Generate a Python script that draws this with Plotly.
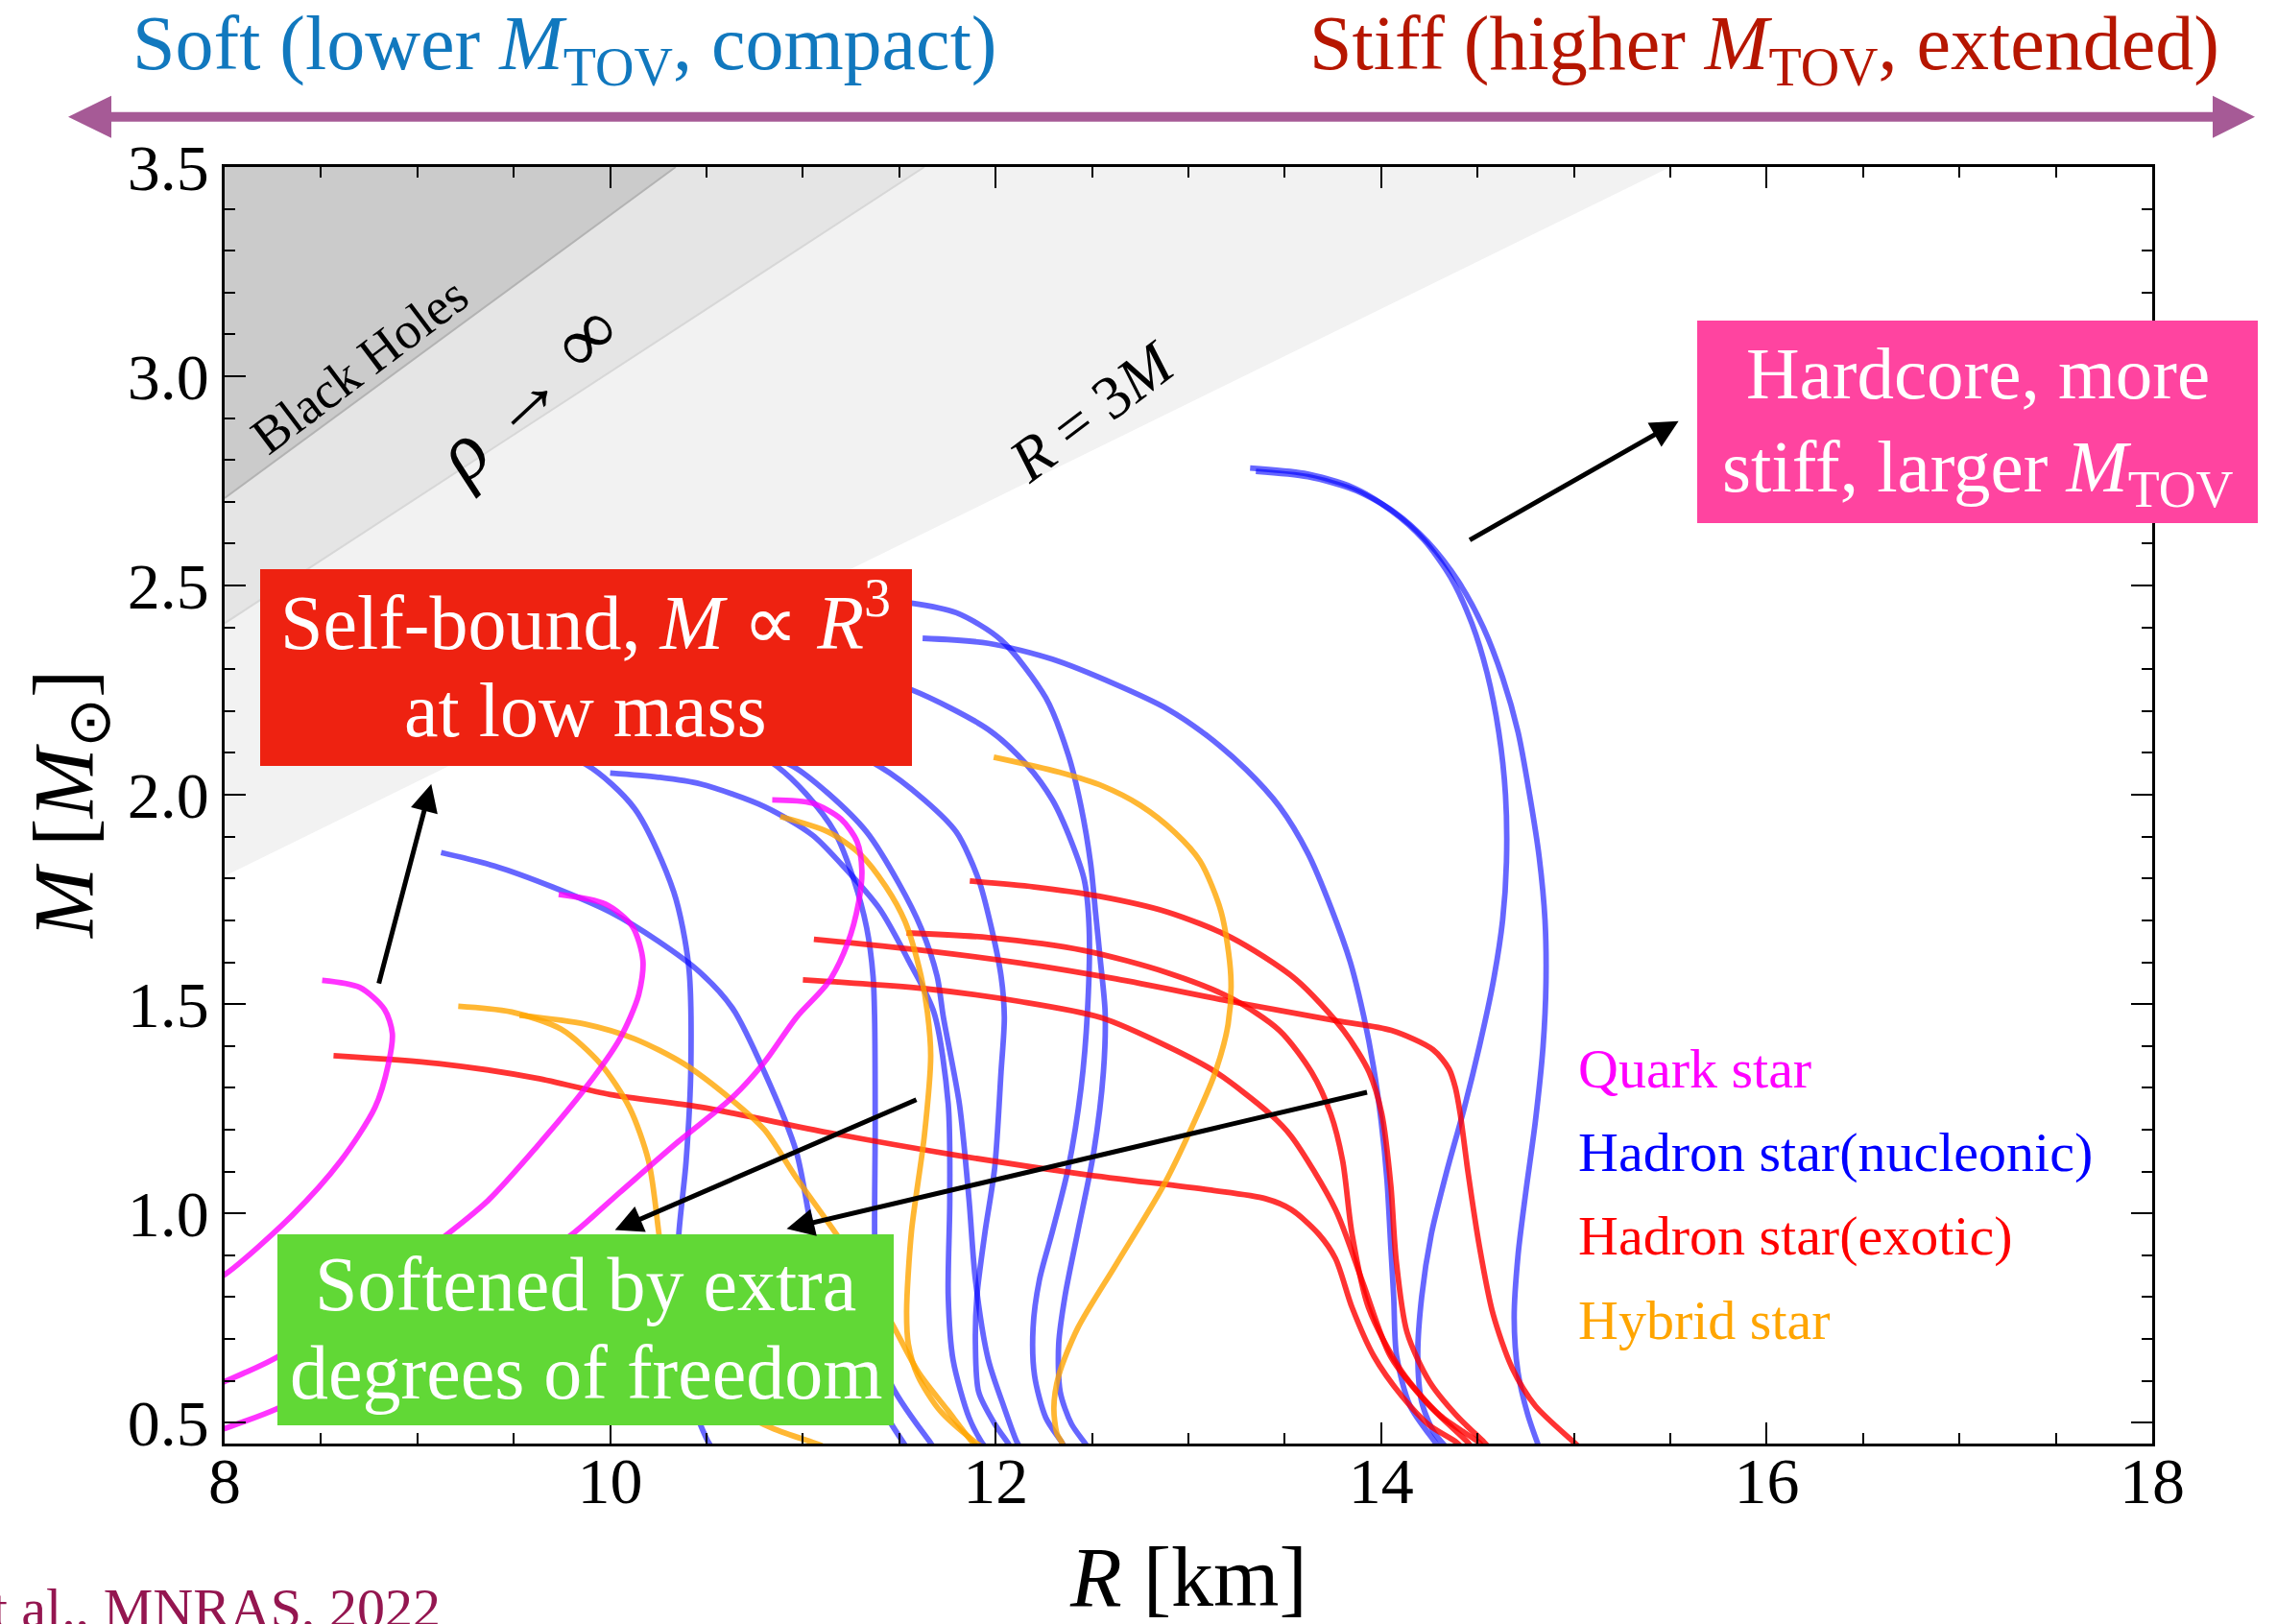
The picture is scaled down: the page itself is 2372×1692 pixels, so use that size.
import plotly.graph_objects as go

# ---------------- data (R in km, M in solar masses) ----------------
quark_R = [
    [8.506, 8.70, 8.83, 8.87, 8.85, 8.78, 8.60, 8.35, 8.005, 7.9],
    [9.733, 9.975, 10.115, 10.17, 10.148, 10.05, 9.873, 9.619, 9.365, 9.136, 8.7, 8.27, 8.0, 7.9],
    [10.841, 11.049, 11.198, 11.281, 11.306, 11.289, 11.231, 11.132, 10.966, 10.80, 10.634, 10.35,
     10.05, 9.797, 9.3, 8.8, 8.27, 8.0, 7.9],
]
quark_M = [
    [1.557, 1.54, 1.487, 1.43, 1.358, 1.253, 1.124, 0.995, 0.855, 0.83],
    [1.762, 1.739, 1.686, 1.604, 1.522, 1.417, 1.30, 1.159, 1.03, 0.943, 0.79, 0.656, 0.598, 0.578],
    [1.988, 1.98, 1.942, 1.888, 1.819, 1.743, 1.644, 1.552, 1.468, 1.361, 1.277, 1.17,
     1.05, 0.948, 0.79, 0.66, 0.533, 0.486, 0.47],
]

nucleonic_R = [
    [13.32, 13.6, 13.85, 14.05, 14.22, 14.36, 14.47, 14.55, 14.61, 14.645, 14.65, 14.63, 14.58,
     14.51, 14.43, 14.34, 14.26, 14.21, 14.19, 14.21, 14.27, 14.34],
    [13.35, 13.62, 13.87, 14.07, 14.24, 14.40, 14.53, 14.63, 14.71, 14.77, 14.82, 14.85, 14.855,
     14.84, 14.80, 14.75, 14.71, 14.69, 14.71, 14.76, 14.82],
    [11.621, 11.962, 12.294, 12.626, 12.891, 13.10, 13.30, 13.472, 13.62, 13.74, 13.84, 13.91,
     13.96, 14.0, 14.03, 14.05, 14.065, 14.08, 14.15, 14.28, 14.30],
    [11.25, 11.563, 11.796, 12.028, 12.26, 12.377, 12.443, 12.493, 12.518, 12.543, 12.568, 12.559,
     12.509, 12.426, 12.36, 12.327, 12.335, 12.393, 12.46, 12.48],
    [11.2, 11.563, 11.962, 12.161, 12.294, 12.393, 12.46, 12.485, 12.476, 12.443, 12.377, 12.294,
     12.227, 12.194, 12.202, 12.26, 12.343, 12.36],
    [10.0, 10.25, 10.468, 10.80, 11.049, 11.198, 11.397, 11.547, 11.68, 11.754, 11.762, 11.754,
     11.779, 11.862, 11.928, 11.95],
    [9.5, 9.873, 10.127, 10.33, 10.407, 10.419, 10.394, 10.356, 10.35, 10.38, 10.44, 10.51, 10.53],
    [9.123, 9.4, 9.7, 10.0, 10.25, 10.468, 10.635, 10.80, 10.966, 11.049, 11.15, 11.3, 11.52, 11.54],
    [10.5, 10.866, 11.015, 11.165, 11.264, 11.331, 11.364, 11.372, 11.375, 11.372, 11.38, 11.45,
     11.66, 11.68],
    [10.6, 10.949, 11.132, 11.331, 11.497, 11.613, 11.696, 11.729, 11.812, 11.862, 11.895, 11.962,
     12.045, 12.111, 12.13],
    [11.0, 11.397, 11.63, 11.796, 11.912, 11.978, 12.028, 12.045, 12.028, 11.995, 11.945, 11.903,
     11.895, 11.912, 11.995, 12.061, 12.08],
]
nucleonic_M = [
    [2.781, 2.768, 2.735, 2.68, 2.61, 2.52, 2.41, 2.29, 2.15, 2.0, 1.84, 1.7, 1.55,
     1.40, 1.25, 1.10, 0.95, 0.80, 0.66, 0.55, 0.48, 0.44],
    [2.773, 2.76, 2.727, 2.675, 2.605, 2.51, 2.40, 2.28, 2.15, 2.0, 1.85, 1.7, 1.55,
     1.40, 1.22, 1.05, 0.90, 0.75, 0.62, 0.52, 0.44],
    [2.374, 2.362, 2.324, 2.263, 2.205, 2.14, 2.06, 1.972, 1.86, 1.73, 1.60, 1.47,
     1.35, 1.22, 1.08, 0.92, 0.80, 0.66, 0.54, 0.453, 0.44],
    [2.47, 2.458, 2.435, 2.37, 2.232, 2.095, 1.972, 1.835, 1.72, 1.605, 1.48, 1.338,
     1.147, 0.956, 0.803, 0.688, 0.573, 0.497, 0.453, 0.44],
    [2.30, 2.251, 2.156, 2.072, 1.988, 1.888, 1.796, 1.682, 1.48, 1.30, 1.109, 0.956,
     0.841, 0.726, 0.612, 0.512, 0.453, 0.44],
    [2.052, 2.042, 2.026, 1.972, 1.904, 1.835, 1.728, 1.605, 1.48, 1.261, 1.032, 0.803,
     0.65, 0.512, 0.453, 0.44],
    [2.13, 2.073, 1.967, 1.768, 1.593, 1.358, 1.124, 0.948, 0.80, 0.65, 0.53, 0.453, 0.44],
    [1.862, 1.83, 1.78, 1.72, 1.65, 1.575, 1.49, 1.338, 1.147, 0.956, 0.80, 0.62, 0.453, 0.44],
    [2.17, 2.068, 2.003, 1.911, 1.797, 1.682, 1.567, 1.468, 1.2, 0.956, 0.8, 0.6, 0.453, 0.44],
    [2.13, 2.068, 2.003, 1.911, 1.789, 1.682, 1.567, 1.468, 1.261, 1.032, 0.841, 0.65,
     0.535, 0.453, 0.44],
    [2.15, 2.068, 1.988, 1.911, 1.797, 1.682, 1.567, 1.468, 1.338, 1.109, 0.956, 0.803,
     0.688, 0.573, 0.497, 0.453, 0.44],
]

exotic_R = [
    [8.565, 9.11, 9.619, 10.0, 10.468, 11.132, 11.796, 12.46, 13.106, 13.40, 13.534, 13.677,
     13.763, 13.849, 13.963, 14.106, 14.249, 14.391, 14.42],
    [11.866, 12.2, 12.534, 12.891, 13.223, 13.555, 13.804, 13.937, 14.003, 14.05, 14.077, 14.134,
     14.249, 14.391, 14.534, 14.56],
    [11.538, 11.962, 12.46, 12.891, 13.223, 13.472, 13.638, 13.738, 13.80, 13.849, 13.934, 14.106,
     14.306, 14.506, 14.53],
    [11.057, 11.63, 12.128, 12.626, 13.223, 13.771, 14.053, 14.269, 14.352, 14.385, 14.41, 14.45,
     14.51, 14.58, 14.68, 14.80, 15.0, 15.03],
    [11.0, 11.63, 12.128, 12.543, 12.891, 13.14, 13.422, 13.534, 13.763, 13.906, 14.049, 14.249,
     14.449, 14.47],
]
exotic_M = [
    [1.377, 1.358, 1.323, 1.284, 1.254, 1.193, 1.139, 1.093, 1.056, 1.035, 1.009, 0.95,
     0.892, 0.775, 0.658, 0.564, 0.494, 0.453, 0.44],
    [1.794, 1.78, 1.758, 1.72, 1.659, 1.56, 1.437, 1.338, 1.238, 1.067, 0.892, 0.716,
     0.599, 0.517, 0.453, 0.44],
    [1.67, 1.659, 1.628, 1.575, 1.514, 1.437, 1.338, 1.238, 1.126, 0.95, 0.775, 0.623,
     0.517, 0.453, 0.44],
    [1.655, 1.628, 1.598, 1.56, 1.506, 1.46, 1.437, 1.391, 1.345, 1.30, 1.238, 1.10,
     0.92, 0.76, 0.63, 0.54, 0.453, 0.44],
    [1.558, 1.537, 1.506, 1.468, 1.399, 1.338, 1.238, 1.184, 1.009, 0.833, 0.658, 0.541,
     0.453, 0.44],
]

hybrid_R = [
    [9.212, 9.49, 9.746, 9.949, 10.10, 10.20, 10.254, 10.30, 10.45, 10.70, 10.85, 11.05, 11.1],
    [9.53, 9.873, 10.127, 10.38, 10.634, 10.80, 10.966, 11.165, 11.35, 11.47, 11.6, 11.75, 11.88, 11.9],
    [10.883, 11.132, 11.298, 11.43, 11.53, 11.613, 11.646, 11.663, 11.63, 11.563, 11.538, 11.547,
     11.596, 11.712, 11.895, 11.92],
    [11.99, 12.33, 12.56, 12.75, 12.93, 13.06, 13.17, 13.22, 13.206, 13.14, 13.057, 12.875, 12.626,
     12.426, 12.327, 12.302, 12.318, 12.343, 12.35],
]
hybrid_M = [
    [1.495, 1.481, 1.44, 1.358, 1.253, 1.124, 0.948, 0.78, 0.62, 0.52, 0.485, 0.453, 0.445],
    [1.473, 1.452, 1.417, 1.358, 1.27, 1.20, 1.085, 0.956, 0.83, 0.73, 0.62, 0.53, 0.453, 0.445],
    [1.948, 1.911, 1.858, 1.781, 1.697, 1.567, 1.48, 1.376, 1.185, 0.956, 0.765, 0.688,
     0.612, 0.528, 0.453, 0.445],
    [2.09, 2.054, 2.02, 1.975, 1.91, 1.842, 1.72, 1.567, 1.452, 1.338, 1.246, 1.07, 0.879,
     0.726, 0.612, 0.535, 0.474, 0.453, 0.445],
]

# forbidden-region boundaries (end points)
bh_R, bh_M = [8.0, 10.34], [2.709, 3.5]
rho_R, rho_M = [8.0, 11.63], [2.41, 3.5]
r3m_R, r3m_M = [8.0, 15.5], [1.806, 3.5]

legend_labels = ["Quark star", "Hadron star(nucleonic)", "Hadron star(exotic)", "Hybrid star"]
legend_colors = ["#ff00ff", "#0000ff", "#ff0000", "#ffa500"]
legend_M = [1.346, 1.145, 0.947, 0.744]

x_ticks = [8, 10, 12, 14, 16, 18]
y_ticks = [0.5, 1.0, 1.5, 2.0, 2.5, 3.0, 3.5]

# ---------------- layout geometry ----------------
W, H = 2372, 1692
L, T, Rm, B = 234, 174, 130, 188
PW, PH = W - L - Rm, H - T - B
FONT = "Liberation Serif, Times New Roman, serif"


def px(X):
    return (X - L) / PW


def py(Y):
    return (H - B - Y) / PH


fig = go.Figure()

# shaded regions
fig.add_trace(go.Scatter(x=[r3m_R[0], r3m_R[1], r3m_R[0]], y=[r3m_M[0], r3m_M[1], r3m_M[1]],
                         fill="toself", fillcolor="#f2f2f2", line=dict(width=0), mode="lines",
                         hoverinfo="skip", showlegend=False))
fig.add_trace(go.Scatter(x=[rho_R[0], rho_R[1], rho_R[0]], y=[rho_M[0], rho_M[1], rho_M[1]],
                         fill="toself", fillcolor="#e5e5e5", line=dict(width=0), mode="lines",
                         hoverinfo="skip", showlegend=False))
fig.add_trace(go.Scatter(x=rho_R, y=rho_M, mode="lines", line=dict(color="#d7d7d7", width=2),
                         hoverinfo="skip", showlegend=False))
fig.add_trace(go.Scatter(x=[bh_R[0], bh_R[1], bh_R[0]], y=[bh_M[0], bh_M[1], bh_M[1]],
                         fill="toself", fillcolor="#cbcbcb", line=dict(width=0), mode="lines",
                         hoverinfo="skip", showlegend=False))
fig.add_trace(go.Scatter(x=bh_R, y=bh_M, mode="lines", line=dict(color="#b3b3b3", width=2),
                         hoverinfo="skip", showlegend=False))

families = [
    (nucleonic_R, nucleonic_M, "rgba(0,0,255,0.6)"),
    (exotic_R, exotic_M, "rgba(255,0,0,0.8)"),
    (hybrid_R, hybrid_M, "rgba(255,165,0,0.8)"),
    (quark_R, quark_M, "rgba(255,0,255,0.8)"),
]
for Rs, Ms, col in families:
    for r, m in zip(Rs, Ms):
        fig.add_trace(go.Scatter(x=r, y=m, mode="lines",
                                 line=dict(color=col, width=5.8, shape="spline", smoothing=0.8),
                                 hoverinfo="skip", showlegend=False))

shapes = []
# double-headed purple arrow on top
ac = "#a65a96"
yc = 121.7
shapes.append(dict(type="line", xref="paper", yref="paper", x0=px(112), x1=px(2309), y0=py(yc), y1=py(yc),
                   line=dict(color=ac, width=10)))
shapes.append(dict(type="path", xref="paper", yref="paper", fillcolor=ac, line=dict(width=0),
                   path=f"M {px(71)},{py(yc)} L {px(116)},{py(yc-22)} L {px(116)},{py(yc+22)} Z"))
shapes.append(dict(type="path", xref="paper", yref="paper", fillcolor=ac, line=dict(width=0),
                   path=f"M {px(2349)},{py(yc)} L {px(2305)},{py(yc-22)} L {px(2305)},{py(yc+22)} Z"))
# coloured boxes
for (x0, x1, y0, y1, col) in [(271, 950, 593, 798, "#ee2211"),
                              (1768, 2352, 334, 545, "#ff44a0"),
                              (289, 931, 1286, 1485, "#61d836")]:
    shapes.append(dict(type="rect", xref="paper", yref="paper", x0=px(x0), x1=px(x1),
                       y0=py(y1), y1=py(y0), fillcolor=col, line=dict(width=0), layer="above"))

ann = []


def text(X, Y, s, size, color, xa="center", ya="middle", angle=0, ref="paper"):
    if ref == "paper":
        ann.append(dict(x=px(X), y=py(Y), xref="paper", yref="paper", text=s, showarrow=False,
                        xanchor=xa, yanchor=ya, textangle=angle,
                        font=dict(family=FONT, size=size, color=color)))
    else:
        ann.append(dict(x=X, y=Y, xref="x", yref="y", text=s, showarrow=False,
                        xanchor=xa, yanchor=ya, textangle=angle,
                        font=dict(family=FONT, size=size, color=color)))


# top labels
text(136, -1, "Soft (lower <i>M</i><sub>TOV</sub>, compact)", 80, "#1178be", xa="left", ya="top")
text(2314, -1, "Stiff (higher <i>M</i><sub>TOV</sub>, extended)", 80, "#b61600", xa="right", ya="top")

# box texts
text(610, 695, "Self-bound, <i>M</i> ∝ <i>R</i><sup>3</sup>", 80, "white", ya="bottom")
text(610, 740, "at low mass", 80, "white")
text(2060, 389, "Hardcore, more", 77, "white")
text(2060, 441, "stiff, larger <i>M</i><sub>TOV</sub>", 77, "white", ya="top")
text(610, 1338, "Softened by extra", 80, "white")
text(610, 1430, "degrees of freedom", 80, "white")

# region labels
text(8.70, 3.025, "Black Holes", 54, "black", angle=-37, ref="data")
text(9.56, 2.963, "<i>ρ</i> → ∞", 84, "black", angle=-43, ref="data")
text(12.50, 2.917, "<i>R</i> = 3<i>M</i>", 64, "black", angle=-37, ref="data")

# legend-like labels
for lab, col, m in zip(legend_labels, legend_colors, legend_M):
    text(15.014, m, lab, 58, col, xa="left", ref="data")

# axis titles
text(1238, 1644, "<i>R</i> [km]", 88, "black")
text(72, 839, "<i>M</i> [<i>M</i><sub>⊙</sub>]", 88, "black", angle=-90)

# citation (cut at left edge as in the original)
text(461, 1675, "et al., MNRAS, 2022", 58, "#941650", xa="right")

# black arrows
arrows = [
    ((9.072, 2.026), (8.798, 1.546)),
    ((15.543, 2.893), (14.452, 2.607)),
    ((10.025, 0.960), (11.596, 1.273)),
    ((10.916, 0.963), (13.934, 1.290)),
]
for (hx, hy), (tx, ty) in arrows:
    ann.append(dict(x=hx, y=hy, ax=tx, ay=ty, xref="x", yref="y", axref="x", ayref="y",
                    text="", showarrow=True, arrowhead=2, arrowsize=1.15, arrowwidth=5,
                    arrowcolor="black"))

axis_common = dict(showline=True, linecolor="black", linewidth=2.5, mirror="ticks",
                   ticks="inside", ticklen=22, tickwidth=2, tickcolor="black",
                   showgrid=False, zeroline=False,
                   tickfont=dict(family=FONT, size=68, color="black"))

fig.update_layout(
    width=W, height=H, autosize=False,
    margin=dict(l=L, r=Rm, t=T, b=B, pad=0),
    paper_bgcolor="white", plot_bgcolor="white",
    xaxis=dict(range=[8, 18], tickvals=x_ticks, ticktext=[str(v) for v in x_ticks],
               minor=dict(dtick=0.5, ticklen=11, tickwidth=1.5, ticks="inside", tickcolor="black"),
               **axis_common),
    yaxis=dict(range=[0.45, 3.5], tickvals=y_ticks, ticktext=[f"{v:.1f}" for v in y_ticks],
               minor=dict(dtick=0.1, tick0=0.5, ticklen=11, tickwidth=1.5, ticks="inside",
                          tickcolor="black"),
               **axis_common),
    shapes=shapes, annotations=ann, showlegend=False,
)
try:
    fig.update_xaxes(ticklabelstandoff=-22)
except Exception:
    pass

fig.write_html("out.html", config={"displayModeBar": False})
